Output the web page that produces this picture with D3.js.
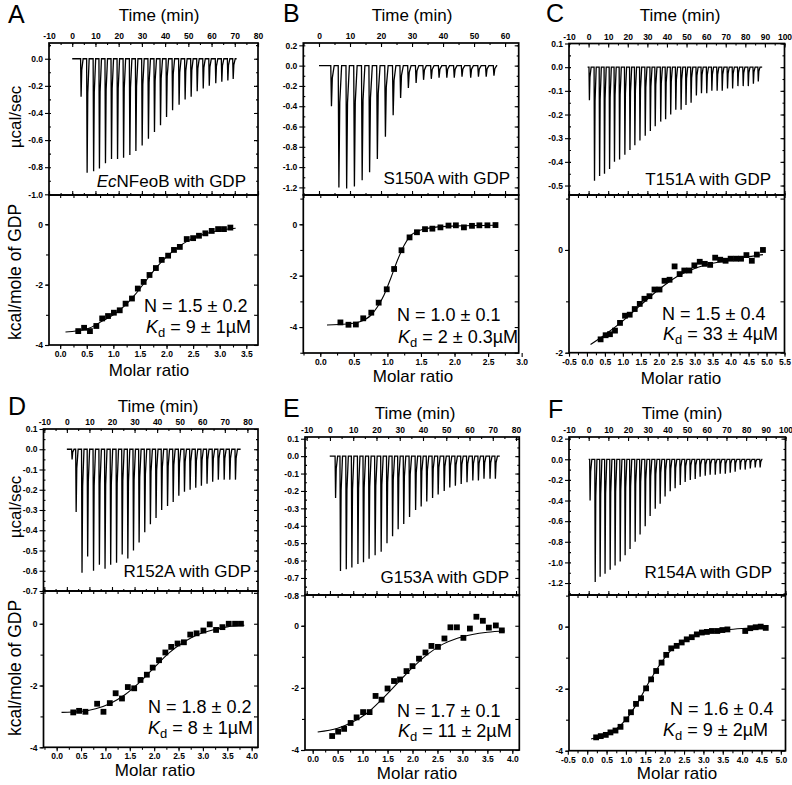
<!DOCTYPE html>
<html><head><meta charset="utf-8">
<script src="https://cdn.jsdelivr.net/npm/d3@7"></script>
<style>
body{margin:0;background:#fff}
svg text{font-family:"Liberation Sans",Arial,Helvetica,sans-serif;fill:#000}
</style>
</head><body><svg id="c" width="792" height="785"></svg>
<script>
// ================= DATA =================
const panelLetters = ["A","B","C","D","E","F"];
const sampleItalic = ["Ec","","","","",""];
const sampleText = ["NFeoB with GDP","S150A with GDP","T151A with GDP","R152A with GDP","G153A with GDP","R154A with GDP"];
const nText = ["1.5 ± 0.2","1.0 ± 0.1","1.5 ± 0.4","1.8 ± 0.2","1.7 ± 0.1","1.6 ± 0.4"];
const kdText = ["9 ± 1µM","2 ± 0.3µM","33 ± 4µM","8 ± 1µM","11 ± 2µM","9 ± 2µM"];

// Thermograms: injection times (min) and peak power (µcal/sec)
const timesA = [3.6,6.2,9.0,11.5,14.1,16.7,19.3,21.9,24.6,27.2,29.9,32.6,35.2,37.8,40.4,43.0,45.8,48.4,51.0,53.6,56.2,58.8,61.6,64.2,66.8,69.1];
const peaksA = [-0.28,-0.84,-0.83,-0.81,-0.77,-0.74,-0.74,-0.73,-0.71,-0.68,-0.64,-0.59,-0.54,-0.49,-0.43,-0.38,-0.34,-0.30,-0.28,-0.24,-0.22,-0.20,-0.18,-0.17,-0.16,-0.15];
const baseA = [0, 70.8];
const timesB = [3.8,6.2,8.7,11.2,13.7,16.1,18.6,21.2,23.7,26.1,28.6,31.1,33.5,36.0,38.5,41.0,43.4,45.9,48.7,51.2,53.7,56.2];
const peaksB = [-0.40,-1.20,-1.21,-1.19,-1.13,-1.05,-0.92,-0.70,-0.49,-0.32,-0.22,-0.17,-0.14,-0.13,-0.12,-0.12,-0.12,-0.11,-0.12,-0.11,-0.11,-0.10];
const baseB = [0, 57.5];
const timesC = [0.2,2.8,5.4,7.9,10.5,13.0,15.6,18.3,20.9,23.4,26.0,28.7,31.3,33.8,36.6,39.1,41.7,44.3,47.0,49.5,52.1,54.8,57.4,60.1,62.7,65.4,68.0,70.7,73.3,76.0,78.7,81.3,83.9,86.4];
const peaksC = [-0.14,-0.48,-0.46,-0.45,-0.43,-0.40,-0.39,-0.37,-0.35,-0.33,-0.31,-0.29,-0.27,-0.25,-0.23,-0.22,-0.20,-0.18,-0.18,-0.16,-0.15,-0.12,-0.11,-0.11,-0.10,-0.10,-0.10,-0.09,-0.09,-0.08,-0.08,-0.08,-0.07,-0.06];
const baseC = [-0.5, 88.6];
const timesD = [2.1,3.9,6.5,9.0,11.6,14.2,16.7,19.2,21.8,24.3,26.8,29.3,31.8,34.3,36.8,39.3,41.8,44.4,46.9,49.4,51.9,54.4,56.9,59.4,61.9,64.4,66.9,69.5,72.0,74.5];
const peaksD = [-0.05,-0.31,-0.61,-0.53,-0.60,-0.57,-0.59,-0.57,-0.56,-0.52,-0.54,-0.50,-0.46,-0.41,-0.37,-0.34,-0.30,-0.28,-0.26,-0.23,-0.21,-0.20,-0.19,-0.18,-0.17,-0.16,-0.15,-0.15,-0.15,-0.15];
const baseD = [0, 77];
const timesE = [2.2,4.3,6.8,9.2,11.8,14.2,16.6,19.2,21.8,24.3,26.7,29.1,31.5,34.0,36.6,39.0,41.4,43.9,46.3,48.9,51.3,53.7,56.2,58.7,61.2,63.6,66.0,68.6,70.9];
const peaksE = [-0.24,-0.66,-0.65,-0.64,-0.62,-0.61,-0.59,-0.57,-0.55,-0.50,-0.46,-0.42,-0.39,-0.35,-0.31,-0.29,-0.26,-0.24,-0.22,-0.20,-0.18,-0.17,-0.16,-0.15,-0.14,-0.14,-0.13,-0.13,-0.13];
const baseE = [-0.1, 73];
const timesF = [0.5,3.1,5.6,8.1,10.7,13.2,15.8,18.3,20.8,23.4,25.9,28.5,31.0,33.6,36.1,38.6,41.2,43.7,46.3,48.8,51.4,53.9,56.4,59.0,61.5,64.1,66.6,69.2,71.7,74.2,76.8,79.3,81.9,84.4,86.9];
const peaksF = [-0.40,-1.19,-1.14,-1.11,-1.07,-1.03,-0.99,-0.93,-0.87,-0.80,-0.73,-0.65,-0.55,-0.48,-0.43,-0.36,-0.31,-0.28,-0.25,-0.22,-0.20,-0.19,-0.17,-0.16,-0.15,-0.15,-0.14,-0.14,-0.13,-0.12,-0.10,-0.10,-0.09,-0.08,-0.08];
const baseF = [0, 88.3];

// Integrated heats: molar ratio vs kcal/mole of GDP
const ratioA = [0.34,0.45,0.56,0.68,0.79,0.90,1.01,1.12,1.23,1.35,1.46,1.57,1.68,1.80,1.91,2.03,2.14,2.25,2.38,2.50,2.61,2.73,2.85,2.97,3.08,3.20];
const heatA = [-3.54,-3.43,-3.54,-3.37,-3.12,-3.04,-2.93,-2.85,-2.63,-2.46,-2.13,-1.91,-1.68,-1.45,-1.18,-1.04,-0.85,-0.75,-0.49,-0.46,-0.38,-0.30,-0.22,-0.16,-0.16,-0.11];
const fitRatioA = [0.1,0.5,0.8,1.0,1.2,1.4,1.6,1.8,2.0,2.2,2.4,2.7,3.0,3.3];
const fitHeatA = [-3.57,-3.47,-3.2,-3.0,-2.72,-2.35,-1.9,-1.45,-1.08,-0.78,-0.55,-0.33,-0.2,-0.13];
const ratioB = [0.30,0.42,0.53,0.64,0.76,0.87,0.99,1.10,1.21,1.33,1.44,1.56,1.67,1.79,1.91,2.02,2.14,2.26,2.37,2.49,2.61];
const heatB = [-3.82,-3.91,-3.90,-3.66,-3.44,-3.05,-2.53,-1.74,-1.01,-0.51,-0.31,-0.19,-0.17,-0.12,-0.05,-0.04,-0.12,-0.06,-0.04,-0.04,-0.03];
const fitRatioB = [0.1,0.4,0.6,0.75,0.85,0.95,1.05,1.15,1.25,1.35,1.5,1.7,2.0,2.6];
const fitHeatB = [-3.92,-3.88,-3.78,-3.55,-3.22,-2.75,-2.1,-1.4,-0.82,-0.42,-0.22,-0.12,-0.07,-0.04];
const ratioC = [0.38,0.52,0.64,0.78,0.92,1.06,1.19,1.33,1.47,1.60,1.74,1.88,2.02,2.16,2.30,2.44,2.58,2.71,2.85,2.99,3.14,3.28,3.43,3.57,3.71,3.86,4.00,4.15,4.29,4.44,4.59,4.73,4.90];
const heatC = [-1.74,-1.66,-1.64,-1.57,-1.42,-1.28,-1.26,-1.15,-1.05,-0.95,-0.90,-0.77,-0.77,-0.60,-0.58,-0.32,-0.47,-0.40,-0.40,-0.30,-0.23,-0.27,-0.29,-0.15,-0.19,-0.21,-0.17,-0.17,-0.17,-0.10,-0.21,-0.09,0.0];
const fitRatioC = [0.1,0.5,1.0,1.5,2.0,2.5,3.0,3.5,4.0,4.5,4.9];
const fitHeatC = [-1.84,-1.65,-1.38,-1.07,-0.77,-0.52,-0.36,-0.26,-0.19,-0.13,-0.09];
const ratioD = [0.34,0.46,0.59,0.83,0.96,1.09,1.21,1.34,1.46,1.59,1.72,1.85,1.97,2.10,2.23,2.35,2.48,2.61,2.74,2.87,3.01,3.14,3.27,3.40,3.53,3.66,3.78];
const heatD = [-2.87,-2.82,-2.85,-2.59,-2.85,-2.57,-2.25,-2.42,-2.05,-2.09,-1.82,-1.65,-1.42,-1.18,-0.93,-0.75,-0.64,-0.60,-0.35,-0.31,-0.22,-0.02,-0.20,-0.11,0.0,0.0,0.0];
const fitRatioD = [0.1,0.5,0.8,1.1,1.4,1.7,2.0,2.3,2.6,2.9,3.2,3.5,3.85];
const fitHeatD = [-2.87,-2.84,-2.75,-2.58,-2.3,-1.9,-1.42,-0.95,-0.6,-0.35,-0.2,-0.1,-0.05];
const ratioE = [0.39,0.51,0.63,0.76,0.88,1.01,1.14,1.26,1.38,1.50,1.63,1.75,1.88,2.00,2.13,2.26,2.38,2.51,2.64,2.76,2.89,3.02,3.15,3.28,3.41,3.53,3.67,3.79];
const heatE = [-3.55,-3.41,-3.32,-3.13,-2.95,-2.78,-2.78,-2.26,-2.38,-2.02,-1.78,-1.73,-1.46,-1.30,-1.06,-0.86,-0.65,-0.68,-0.41,-0.05,-0.05,-0.39,-0.09,0.29,0.16,-0.06,0.01,-0.15];
const fitRatioE = [0.1,0.5,0.8,1.1,1.4,1.7,2.0,2.3,2.6,2.9,3.2,3.5,3.85];
const fitHeatE = [-3.42,-3.3,-3.1,-2.8,-2.35,-1.85,-1.35,-0.92,-0.6,-0.4,-0.28,-0.21,-0.17];
const ratioF = [0.23,0.35,0.48,0.60,0.73,0.86,1.01,1.13,1.26,1.39,1.52,1.65,1.78,1.92,2.04,2.17,2.31,2.44,2.57,2.70,2.83,2.96,3.09,3.22,3.36,3.49,3.62,4.08,4.21,4.35,4.48,4.61];
const heatF = [-3.57,-3.53,-3.49,-3.41,-3.35,-3.23,-2.99,-2.76,-2.49,-2.31,-1.99,-1.70,-1.43,-1.16,-0.91,-0.70,-0.62,-0.51,-0.41,-0.34,-0.25,-0.19,-0.17,-0.14,-0.14,-0.11,-0.09,-0.14,-0.05,-0.02,0.0,-0.04];
const fitRatioF = [0.1,0.4,0.7,1.0,1.3,1.6,1.9,2.2,2.5,2.8,3.2,3.6,4.0,4.6];
const fitHeatF = [-3.62,-3.52,-3.35,-3.0,-2.45,-1.78,-1.18,-0.72,-0.45,-0.28,-0.17,-0.1,-0.06,-0.03];

// Tick labels
const timeTicksA = [-10,0,10,20,30,40,50,60,70,80];
const timeTicksB = [0,10,20,30,40,50,60];
const timeTicksC = [-10,0,10,20,30,40,50,60,70,80,90,100];
const timeTicksD = [-10,0,10,20,30,40,50,60,70,80];
const timeTicksE = [-10,0,10,20,30,40,50,60,70,80];
const timeTicksF = [-10,0,10,20,30,40,50,60,70,80,90,100];
const rateTicksA = [0.0,-0.2,-0.4,-0.6,-0.8,-1.0];
const rateTicksB = [0.2,0.0,-0.2,-0.4,-0.6,-0.8,-1.0,-1.2];
const rateTicksC = [0.1,0.0,-0.1,-0.2,-0.3,-0.4,-0.5];
const rateTicksD = [0.1,0.0,-0.1,-0.2,-0.3,-0.4,-0.5,-0.6,-0.7];
const rateTicksE = [0.1,0.0,-0.1,-0.2,-0.3,-0.4,-0.5,-0.6,-0.7,-0.8];
const rateTicksF = [0.2,0.0,-0.2,-0.4,-0.6,-0.8,-1.0,-1.2];
const heatTicksA = [0,-2,-4];
const heatTicksB = [0,-2,-4];
const heatTicksC = [0,-2];
const heatTicksD = [0,-2,-4];
const heatTicksE = [0,-2,-4];
const heatTicksF = [0,-2,-4];
const ratioTicksA = [0.0,0.5,1.0,1.5,2.0,2.5,3.0,3.5];
const ratioTicksB = [0.0,0.5,1.0,1.5,2.0,2.5,3.0];
const ratioTicksC = [-0.5,0.0,0.5,1.0,1.5,2.0,2.5,3.0,3.5,4.0,4.5,5.0,5.5];
const ratioTicksD = [0.0,0.5,1.0,1.5,2.0,2.5,3.0,3.5,4.0];
const ratioTicksE = [0.0,0.5,1.0,1.5,2.0,2.5,3.0,3.5,4.0];
const ratioTicksF = [-0.5,0.0,0.5,1.0,1.5,2.0,2.5,3.0,3.5,4.0,4.5,5.0];

// ================= LAYOUT =================
const layout = [
 {x0:49,  x1:258,  top:43,  mid:195, bot:345,  tD:[-10,80],      rD:[-1.005,0.116], hD:[-4,0.97], mD:[-0.21,3.72], rMinor:0.1,
  letter:[8,23], title:[159,21], xt:[149,376], ylab1:[15,117], ylab2:[15,272], samp:[246,187], nPos:[144,312], kPos:[146,333]},
 {x0:303.3,x1:518.7,top:43, mid:195, bot:353,  tD:[-5.06,64.4], rD:[-1.275,0.223], hD:[-5.01,1.14], mD:[-0.253,2.956], rMinor:0.1,
  letter:[283,22], title:[412,21], xt:[413,382], samp:[510,184], nPos:[397,321], kPos:[398,343]},
 {x0:569, x1:784.5,top:43.5,mid:195, bot:352.7,tD:[-10,100],     rD:[-0.54,0.1],    hD:[-2,1.07], mD:[-0.5,5.5], rMinor:0.05,
  letter:[546,22], title:[680,21], xt:[681,384], samp:[771,185], nPos:[662,320], kPos:[663,340]},
 {x0:43.5,x1:258,  top:429, mid:591, bot:747.3,tD:[-10.35,84.7], rD:[-0.7,0.1],     hD:[-4,1.06], mD:[-0.27,4.13], rMinor:0.05,
  letter:[8,415], title:[158,412], xt:[155,776], ylab1:[15,507], ylab2:[15,668], samp:[251,577], nPos:[148,713], kPos:[148,734]},
 {x0:305, x1:519.3,top:437, mid:595, bot:750,  tD:[-10.73,81.4], rD:[-0.798,0.11],  hD:[-4,0.99], mD:[-0.154,4.14], rMinor:0.05,
  letter:[283,417], title:[415,419], xt:[417,779], samp:[509,583], nPos:[397,717], kPos:[398,737]},
 {x0:569, x1:785.5,top:437, mid:595, bot:750.7,tD:[-10,100],     rD:[-1.316,0.216], hD:[-4,1.02], mD:[-0.47,5.12], rMinor:0.1,
  letter:[548,418], title:[682,419], xt:[677,779], samp:[772,578], nPos:[670,715], kPos:[663,736]}
];

const thermo = [[timesA,peaksA,baseA],[timesB,peaksB,baseB],[timesC,peaksC,baseC],[timesD,peaksD,baseD],[timesE,peaksE,baseE],[timesF,peaksF,baseF]];
const iso = [[ratioA,heatA,fitRatioA,fitHeatA],[ratioB,heatB,fitRatioB,fitHeatB],[ratioC,heatC,fitRatioC,fitHeatC],[ratioD,heatD,fitRatioD,fitHeatD],[ratioE,heatE,fitRatioE,fitHeatE],[ratioF,heatF,fitRatioF,fitHeatF]];
const tTicks = [timeTicksA,timeTicksB,timeTicksC,timeTicksD,timeTicksE,timeTicksF];
const rTicks = [rateTicksA,rateTicksB,rateTicksC,rateTicksD,rateTicksE,rateTicksF];
const hTicks = [heatTicksA,heatTicksB,heatTicksC,heatTicksD,heatTicksE,heatTicksF];
const mTicks = [ratioTicksA,ratioTicksB,ratioTicksC,ratioTicksD,ratioTicksE,ratioTicksF];

// ================= DRAW =================
const svg = d3.select("#c");
const FONT = '"Liberation Sans",Arial,Helvetica,sans-serif';
const dash = f => v => f(v).replace("\u2212","-");
const f1 = dash(d3.format(".1f")), f0 = dash(d3.format("d"));

function minorVals(domain, step){
  const lo = Math.ceil(domain[0]/step - 1e-6), hi = Math.floor(domain[1]/step + 1e-6);
  return d3.range(lo, hi+1).map(k => +(k*step).toFixed(4));
}

function axis(g, fn, scale, vals, size, tr, fmt, pad){
  const ax = fn(scale).tickValues(vals).tickSize(size).tickSizeOuter(0).tickPadding(pad||2)
     .tickFormat(fmt ? fmt : () => "");
  const a = g.append("g").attr("transform", tr).call(ax)
     .attr("font-family", FONT).attr("font-size", 8.5).attr("font-weight","bold");
  a.select(".domain").remove();
  a.selectAll("line").attr("stroke","#000").attr("stroke-width",1.1);
  a.selectAll("text").attr("fill","#000");
  return a;
}

layout.forEach((p, i) => {
  const g = svg.append("g");
  const tx = d3.scaleLinear().domain(p.tD).range([p.x0,p.x1]);
  const ry = d3.scaleLinear().domain(p.rD).range([p.mid,p.top]);
  const mx = d3.scaleLinear().domain(p.mD).range([p.x0,p.x1]);
  const hy = d3.scaleLinear().domain(p.hD).range([p.bot,p.mid]);

  // thermogram
  const [times, peaks, base] = thermo[i];
  const pts = [[base[0],0]];
  times.forEach((t,k) => { const pk = peaks[k]; pts.push([t,0],[t+0.22,pk],[t+0.5,pk*0.3],[t+1.1,0]); });
  pts.push([base[1],0]);
  g.append("path").attr("d", d3.line().x(d=>tx(d[0])).y(d=>ry(d[1]))(pts))
    .attr("fill","none").attr("stroke","#000").attr("stroke-width",1.3).attr("stroke-linejoin","miter");

  // isotherm fit + points
  const [rx, hv, fx, fy] = iso[i];
  g.append("path").attr("d", d3.line().curve(d3.curveMonotoneX).x(d=>mx(d[0])).y(d=>hy(d[1]))(fx.map((v,k)=>[v,fy[k]])))
    .attr("fill","none").attr("stroke","#000").attr("stroke-width",1.1);
  const s = 5.8;
  g.selectAll("rect.pt").data(rx.map((v,k)=>[v,hv[k]])).join("rect").attr("class","pt")
    .attr("x", d=>mx(d[0])-s/2).attr("y", d=>hy(d[1])-s/2).attr("width",s).attr("height",s).attr("fill","#000");

  // frames
  g.append("rect").attr("x",p.x0).attr("y",p.top).attr("width",p.x1-p.x0).attr("height",p.mid-p.top)
    .attr("fill","none").attr("stroke","#000").attr("stroke-width",1.7);
  g.append("rect").attr("x",p.x0).attr("y",p.mid).attr("width",p.x1-p.x0).attr("height",p.bot-p.mid)
    .attr("fill","none").attr("stroke","#000").attr("stroke-width",1.7);

  // time axis (top)
  const tMin = minorVals(p.tD, 5);
  axis(g, d3.axisTop, tx, tTicks[i], -4, `translate(0,${p.top})`, f0, 4);
  axis(g, d3.axisTop, tx, tMin, -2, `translate(0,${p.top})`);
  axis(g, d3.axisBottom, tx, tTicks[i].filter(v=>v>=p.tD[0]&&v<=p.tD[1]), -4, `translate(0,${p.mid})`);
  axis(g, d3.axisBottom, tx, tMin, -2, `translate(0,${p.mid})`);
  // rate axis
  const rMin = minorVals(p.rD, p.rMinor);
  axis(g, d3.axisLeft, ry, rTicks[i], 4, `translate(${p.x0},0)`, f1, 2);
  axis(g, d3.axisLeft, ry, rMin, -2, `translate(${p.x0},0)`);
  axis(g, d3.axisRight, ry, rTicks[i], -4, `translate(${p.x1},0)`);
  axis(g, d3.axisRight, ry, rMin, -2, `translate(${p.x1},0)`);
  // heat axis
  const hMin = minorVals(p.hD, 1);
  axis(g, d3.axisLeft, hy, hTicks[i], 4, `translate(${p.x0},0)`, f0, 2);
  axis(g, d3.axisLeft, hy, hMin, 3, `translate(${p.x0},0)`);
  axis(g, d3.axisRight, hy, hMin, -4, `translate(${p.x1},0)`);
  // molar ratio axis
  const mMin = minorVals(p.mD, 0.25);
  axis(g, d3.axisBottom, mx, mTicks[i], 4, `translate(0,${p.bot})`, f1, 2);
  axis(g, d3.axisBottom, mx, mMin, 2.5, `translate(0,${p.bot})`);
  axis(g, d3.axisTop, mx, mMin, -3, `translate(0,${p.mid})`);

  // texts
  g.append("text").attr("x",p.letter[0]).attr("y",p.letter[1]).attr("font-size",25).text(panelLetters[i]);
  g.append("text").attr("x",p.title[0]).attr("y",p.title[1]).attr("font-size",17).attr("text-anchor","middle").text("Time (min)");
  g.append("text").attr("x",p.xt[0]).attr("y",p.xt[1]).attr("font-size",17).attr("text-anchor","middle").text("Molar ratio");
  if (p.ylab1) {
    g.append("text").attr("transform",`translate(${p.ylab1[0]+6},${p.ylab1[1]}) rotate(-90)`).attr("font-size",17)
      .attr("text-anchor","middle").text("µcal/sec");
    g.append("text").attr("transform",`translate(${p.ylab2[0]+6},${p.ylab2[1]}) rotate(-90)`).attr("font-size",17.5)
      .attr("text-anchor","middle").text("kcal/mole of GDP");
  }
  const st = g.append("text").attr("x",p.samp[0]).attr("y",p.samp[1]).attr("font-size",17).attr("text-anchor","end");
  if (sampleItalic[i]) st.append("tspan").attr("font-style","italic").text(sampleItalic[i]);
  st.append("tspan").text(sampleText[i]);
  g.append("text").attr("x",p.nPos[0]).attr("y",p.nPos[1]).attr("font-size",18).text("N = " + nText[i]);
  const kt = g.append("text").attr("x",p.kPos[0]).attr("y",p.kPos[1]).attr("font-size",18);
  kt.append("tspan").attr("font-style","italic").text("K");
  kt.append("tspan").attr("font-size",13).attr("dy",4).text("d");
  kt.append("tspan").attr("dy",-4).text(" = " + kdText[i]);
});
</script>
</body></html>
